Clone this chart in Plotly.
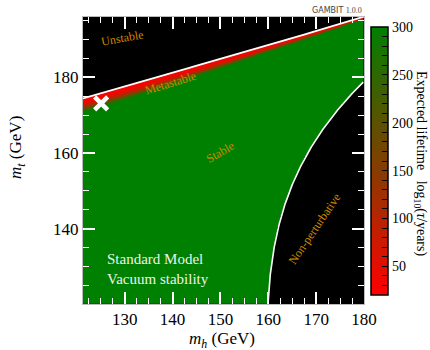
import numpy as np
import plotly.graph_objects as go

# Absolute-stability bound of the SM vacuum: top mass vs Higgs mass (GeV)
MH_NODES = [121, 130, 140, 150, 160, 170, 180]
MT_STABILITY = [174.3, 177.5, 181.2, 184.8, 188.5, 192.2, 196.0]
# depth (in m_t, GeV) of the metastable band below that bound
META_DEPTH = [3.8, 3.6, 3.2, 2.6, 2.0, 1.4, 0.8]

# lifetime profile across the band: fraction of band depth -> log10(tau/years)
DEPTH_FRACTION = [0.0, 0.35, 0.55, 0.75, 1.0]
LOG_LIFETIME = [20, 45, 100, 190, 300]

# perturbativity bound: largest Higgs mass allowed at a given top mass
MT_PERT = [120, 130, 140, 150, 160, 170, 175, 178.7]
MH_PERT = [160.0, 160.5, 162.0, 164.7, 168.3, 173.5, 176.9, 180.0]

# measured Standard Model point
SM_MH = [125.09]
SM_MT = [173.1]

CBAR_MAJOR = [50, 100, 150, 200, 250, 300]

SERIF = "Liberation Serif"
LABEL_COLOR = "#d08a00"

X_RANGE = [121.3, 180.0]
Y_RANGE = [120.1, 195.9]

# ---- lifetime field on a grid ----
mh = np.arange(X_RANGE[0], X_RANGE[1] + 0.01, 0.2)
mt = np.arange(Y_RANGE[0], Y_RANGE[1] + 0.01, 0.1)
MH, MT = np.meshgrid(mh, mt)

bound = np.interp(MH, MH_NODES, MT_STABILITY)
depth = np.interp(MH, MH_NODES, META_DEPTH)
frac = (bound - MT) / depth
z = np.interp(frac, DEPTH_FRACTION, LOG_LIFETIME)

pert_coef = np.polyfit(MT_PERT, MH_PERT, 3)
z[MT > bound] = np.nan
z[MH > np.polyval(pert_coef, MT)] = np.nan

# boundary curves
line_mh = np.linspace(X_RANGE[0], X_RANGE[1], 120)
line_mt = np.interp(line_mh, MH_NODES, MT_STABILITY)
pert_mt = np.linspace(MT_PERT[0], MT_PERT[-1], 200)
pert_mh = np.polyval(pert_coef, pert_mt)

fig = go.Figure()
fig.add_trace(go.Heatmap(
    x=mh, y=mt, z=z,
    zmin=20, zmax=300,
    colorscale=[[0, "#ff0000"], [1, "#008000"]],
    hoverinfo="skip",
    colorbar=dict(
        x=1.025, xanchor="left", xpad=0,
        y=0.498, yanchor="middle", ypad=0,
        len=268, lenmode="pixels",
        thickness=17,
        outlinewidth=1.5, outlinecolor="black",
        ticks="inside", ticklen=6, tickwidth=1.2, tickcolor="black",
        tickvals=list(range(30, 301, 10)),
        ticktext=[str(v) if v in CBAR_MAJOR else "" for v in range(30, 301, 10)],
        tickfont=dict(family=SERIF, size=14, color="black"),
    ),
))
fig.add_trace(go.Scatter(x=line_mh, y=line_mt, mode="lines",
                         line=dict(color="white", width=1.8), hoverinfo="skip",
                         showlegend=False))
fig.add_trace(go.Scatter(x=pert_mh, y=pert_mt, mode="lines",
                         line=dict(color="white", width=1.6), hoverinfo="skip",
                         showlegend=False))
fig.add_trace(go.Scatter(x=SM_MH, y=SM_MT, mode="markers",
                         marker=dict(symbol="x-thin", size=13,
                                     line=dict(color="white", width=4.5)),
                         hoverinfo="skip", showlegend=False))

axis_common = dict(
    ticks="inside", ticklen=12, tickwidth=1.5, tickcolor="white",
    mirror="allticks", showline=True, linecolor="#bbbbbb", linewidth=1,
    showgrid=False, zeroline=False,
    tickfont=dict(family=SERIF, size=17, color="black"),
)
fig.update_xaxes(range=X_RANGE, dtick=10, tick0=0,
                 minor=dict(dtick=2.5, tick0=0, ticks="inside", ticklen=6,
                            tickwidth=1.2, tickcolor="white"),
                 **axis_common)
fig.update_yaxes(range=Y_RANGE, dtick=20, tick0=0,
                 minor=dict(dtick=5, tick0=0, ticks="inside", ticklen=6,
                            tickwidth=1.2, tickcolor="white"),
                 **axis_common)

region_labels = [
    ("Unstable", 129.6, 190.3, -10),
    ("Metastable", 139.6, 178.6, -17),
    ("Stable", 150.0, 160.3, -30),
    ("Non-perturbative", 169.6, 140.0, -56),
]
annotations = [
    dict(x=x, y=y, xref="x", yref="y", text=t, textangle=a, showarrow=False,
         xanchor="center", yanchor="middle",
         font=dict(family=SERIF, size=12, color=LABEL_COLOR))
    for t, x, y, a in region_labels
]
annotations += [
    dict(x=0.078, y=0.122, xref="paper", yref="paper", xanchor="left",
         yanchor="middle", align="left", showarrow=False,
         text="Standard Model<br>Vacuum stability",
         font=dict(family=SERIF, size=15, color="#eef3ee")),
    dict(x=0.495, y=-0.125, xref="paper", yref="paper", showarrow=False,
         xanchor="center", yanchor="middle",
         text="<i>m</i><sub><i>h</i></sub> (GeV)",
         font=dict(family=SERIF, size=17, color="black")),
    dict(x=-0.235, y=0.547, xref="paper", yref="paper", showarrow=False,
         xanchor="center", yanchor="middle",
         textangle=-90, text="<i>m</i><sub><i>t</i></sub> (GeV)",
         font=dict(family=SERIF, size=17, color="black")),
    dict(x=1.203, y=0.491, xref="paper", yref="paper", showarrow=False,
         xanchor="center", yanchor="middle",
         textangle=90,
         text="Expected lifetime   log<sub>10</sub>(<i>τ</i>/years)",
         font=dict(family=SERIF, size=14, color="black")),
    dict(x=1.0, y=1.024, xref="paper", yref="paper", xanchor="right",
         yanchor="middle", showarrow=False,
         text="GAMBIT <span style='font-family:Liberation Serif'>1.0.0</span>",
         font=dict(family="DejaVu Sans", size=8, color="#444444")),
]

fig.update_layout(
    width=430, height=350,
    margin=dict(l=83, r=66, t=17, b=46, autoexpand=False),
    plot_bgcolor="black", paper_bgcolor="white",
    showlegend=False,
    annotations=annotations,
)

fig.write_html("out.html")
